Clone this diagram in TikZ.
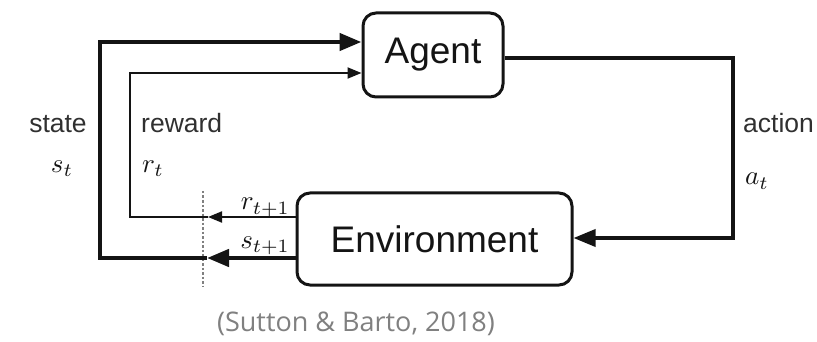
\documentclass[tikz,border=0pt]{standalone}
\usepackage{fontspec}
\setmainfont{Liberation Sans}
\newfontfamily\capfont{Open Sans}
\usetikzlibrary{arrows.meta}
\definecolor{ink}{HTML}{141414}
\definecolor{labelgray}{HTML}{303030}
\definecolor{capgray}{HTML}{808080}
% enlarged math symbol for the loop labels
\newcommand{\loopsym}[1]{\scalebox{2.7}{$#1$}}
\begin{document}
\begin{tikzpicture}[x=1pt,y=-1pt,
  box/.style={draw=ink, line width=3pt, rounded corners=13pt, fill=white,
    inner sep=0pt, font=\fontsize{37}{40}\selectfont, text=ink},
  heavy/.style={draw=ink, line width=4.5pt},
  light/.style={draw=ink, line width=2pt},
  medium/.style={draw=ink, line width=3.5pt},
  bigtip/.style={-{Triangle[length=22pt,width=17pt]}},
  smalltip/.style={-{Triangle[length=14pt,width=11pt]}},
  word/.style={anchor=base west, inner sep=0pt, text=labelgray,
    font=\fontsize{26.5}{28}\selectfont},
  sym/.style={anchor=base west, inner sep=0pt, text=ink},
  cut/.style={draw=gray, line width=1.3pt, dash pattern=on 2.5pt off 2pt}
]
\useasboundingbox (0,0) rectangle (817,342);

% the two blocks
\node[box, minimum width=140pt, minimum height=84pt] (agent) at (433,55) {Agent};
\node[box, minimum width=275pt, minimum height=92pt] (env) at (434.5,239) {Environment};

% corner and break points of the feedback loops
\coordinate (stateCut) at (207,258);
\coordinate (stateLow) at (100,258);
\coordinate (stateHigh) at (100,42);
\coordinate (rewardCut) at (208,217);
\coordinate (rewardLow) at (130,217);
\coordinate (rewardHigh) at (130,73);
\coordinate (actTop) at (733,58);
\coordinate (actLow) at (733,238);
\coordinate (cutTop) at (203,191);
\coordinate (cutBottom) at (203,287);

% time-step boundary
\draw[cut] (cutTop) -- (cutBottom);

% state loop
\draw[heavy, bigtip] (env.west |- stateCut) -- (stateCut);
\draw[heavy, bigtip, line join=miter] (stateCut) -- (stateLow) -- (stateHigh) -- (agent.west |- stateHigh);

% reward loop
\draw[light, smalltip] (env.west |- rewardCut) -- (rewardCut);
\draw[light, smalltip, line join=miter] (rewardCut) -- (rewardLow) -- (rewardHigh) -- (agent.west |- rewardHigh);

% action
\draw[medium, bigtip, line join=miter] (agent.east |- actTop) -- (actTop) -- (actLow) -- (env.east |- actLow);

% labels
\node[word, anchor=base] (stateLbl) at (58,133) {state};
\node[sym, anchor=base] (stateSym) at (62,172) {\loopsym{s_t}};
\node[word] (rewardLbl) at (141,133) {reward};
\node[sym] (rewardSym) at (142,172) {\loopsym{r_t}};
\node[word] (actionLbl) at (743,133) {action};
\node[sym] (actionSym) at (745,185) {\loopsym{a_t}};
\node[sym, anchor=base east] (rNext) at (290,210) {\loopsym{r_{t+1}}};
\node[sym, anchor=base east] (sNext) at (290,248) {\loopsym{s_{t+1}}};

% source
\node[anchor=base, inner sep=0pt, text=capgray, font=\capfont\fontsize{27}{30}\selectfont]
  (source) at (356,331) {(Sutton \& Barto, 2018)};
\end{tikzpicture}
\end{document}
